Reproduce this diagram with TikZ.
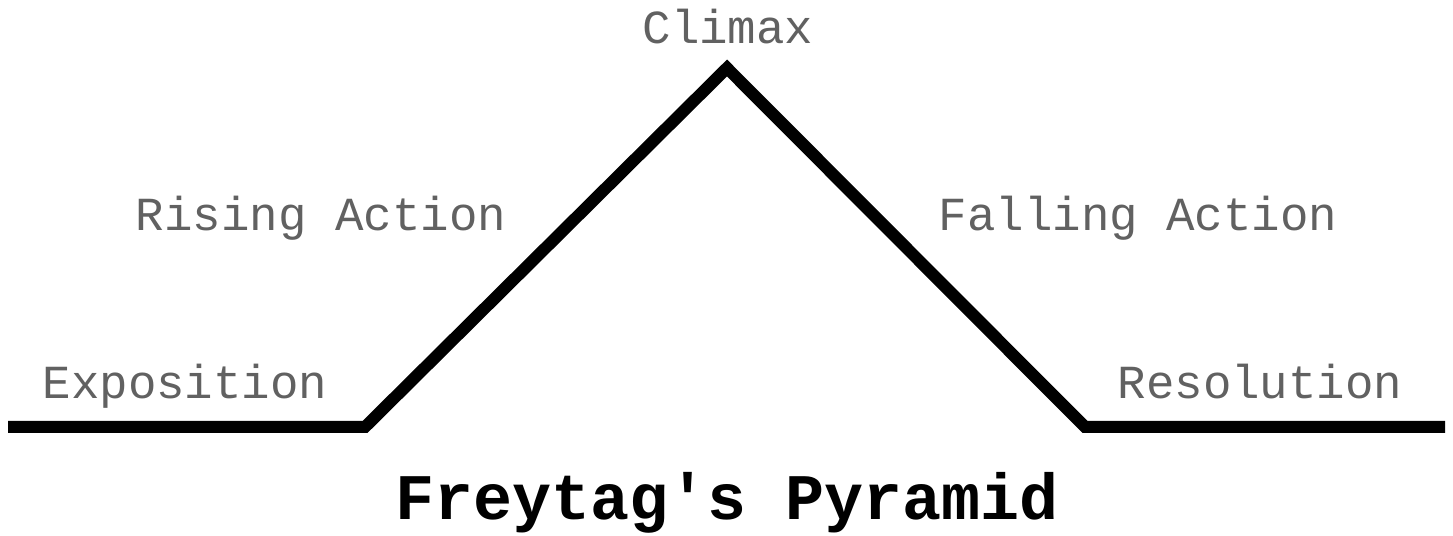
\documentclass[tikz,border=0pt]{standalone}
\usepackage{fontspec}
\setmonofont{Liberation Mono}
\usepackage{tikz}

\begin{document}
\begin{tikzpicture}[every node/.style={font=\ttfamily\fontsize{27}{30}\selectfont, anchor=base},
    stage/.style={text=black!62},
    title/.style={font=\ttfamily\bfseries\fontsize{37}{40}\selectfont}]
            \useasboundingbox (0,0) rectangle (29.06,10.72);
            % the pyramid
            \coordinate (start) at (0.16,2.18);
            \coordinate (incite) at (7.3,2.18);
            \coordinate (peak) at (14.54,9.36);
            \coordinate (fall) at (21.7,2.18);
            \coordinate (finish) at (28.9,2.18);
            \draw[line width=0.24cm, miter limit=20]
                (start) -- (incite) -- (peak) -- (fall) -- (finish);

            % stages
            \node[stage] (climax) at (14.56,9.84) {Climax};
            \node[stage] (rising) at (6.42,6.10) {Rising Action};
            \node[stage] (falling) at (22.76,6.10) {Falling Action};
            \node[stage] (expo) at (3.7,2.74) {Exposition};
            \node[stage] (reso) at (25.2,2.74) {Resolution};

            % title
            \node[title] (name) at (14.54,0.32) {Freytag's Pyramid};
        \end{tikzpicture}
\end{document}
